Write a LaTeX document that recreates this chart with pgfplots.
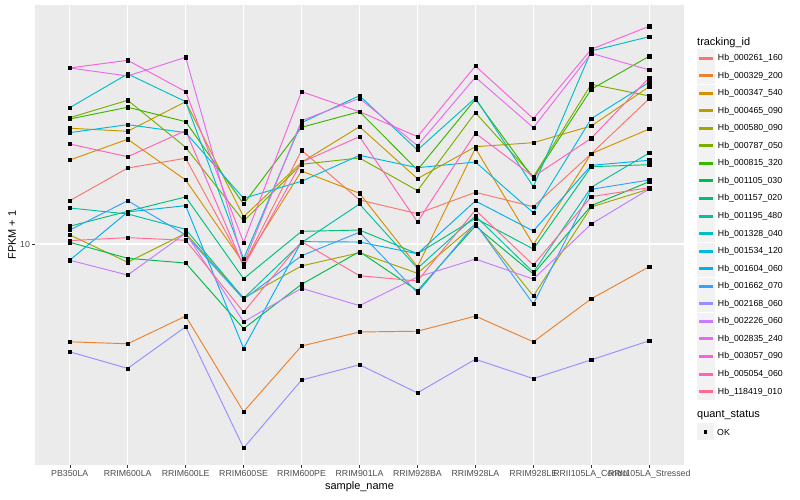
\documentclass[border=0pt]{standalone}
\usepackage{fontspec}
\setmainfont{Liberation Sans}
\usepackage{pgfplots}
\usepackage{pgfplotstable}
\pgfplotsset{compat=1.18}
\definecolor{c1}{HTML}{F8766D}
\definecolor{c2}{HTML}{EA8331}
\definecolor{c3}{HTML}{D89000}
\definecolor{c4}{HTML}{C09B00}
\definecolor{c5}{HTML}{A3A500}
\definecolor{c6}{HTML}{7CAE00}
\definecolor{c7}{HTML}{39B600}
\definecolor{c8}{HTML}{00BB4E}
\definecolor{c9}{HTML}{00BF7D}
\definecolor{c10}{HTML}{00C1A3}
\definecolor{c11}{HTML}{00BFC4}
\definecolor{c12}{HTML}{00BAE0}
\definecolor{c13}{HTML}{00B0F6}
\definecolor{c14}{HTML}{35A2FF}
\definecolor{c15}{HTML}{9590FF}
\definecolor{c16}{HTML}{C77CFF}
\definecolor{c17}{HTML}{E76BF3}
\definecolor{c18}{HTML}{FA62DB}
\definecolor{c19}{HTML}{FF62BC}
\definecolor{c20}{HTML}{FF6C91}
\definecolor{panelbg}{HTML}{EBEBEB}
\definecolor{keybg}{HTML}{F2F2F2}
\definecolor{ticklab}{HTML}{4D4D4D}
\definecolor{tickcol}{HTML}{333333}

\pgfplotstableread{
x s1 s2 s3 s4 s5 s6 s7 s8 s9 s10 s11 s12 s13 s14 s15 s16 s17 s18 s19 s20
0 13.94 4.72 19.05 24.31 10.72 26.36 26.10 10.13 11.46 13.18 28.47 23.50 8.83 11.13 4.37 8.83 38.61 38.61 21.54 10.26
1 17.92 4.65 22.34 23.75 8.69 30.13 28.56 8.96 12.85 12.59 36.88 24.99 12.79 13.94 3.85 7.88 36.31 40.95 19.54 10.50
2 19.31 5.75 16.34 29.81 10.86 21.00 25.57 8.64 14.35 11.19 29.81 23.50 13.42 10.72 5.30 10.86 41.91 32.19 23.86 10.29
3 8.51 2.76 8.62 12.33 6.61 11.93 13.59 5.22 7.66 6.59 8.93 14.20 4.49 6.54 2.09 5.50 8.62 10.13 8.40 5.93
4 20.53 4.57 17.51 18.72 8.45 18.44 24.49 7.34 11.02 10.10 25.37 16.18 10.18 9.14 3.52 7.12 25.76 32.19 18.72 10.18
5 14.02 5.09 14.76 24.60 9.35 19.35 27.61 9.43 11.13 13.59 31.21 19.75 10.15 10.94 3.96 6.23 30.60 27.61 22.79 7.84
6 12.62 5.12 8.40 16.51 7.99 15.06 17.65 6.99 9.28 8.30 20.57 17.96 9.28 6.88 3.19 7.76 21.27 22.79 11.84 7.53
7 14.87 5.75 20.85 21.10 11.66 27.40 30.36 11.48 12.18 12.40 30.67 18.76 13.91 11.72 4.13 8.91 35.95 39.20 23.39 12.98
8 13.31 4.72 9.95 21.76 6.71 16.76 16.56 7.94 9.62 8.05 15.52 12.71 11.05 6.31 3.56 7.64 24.42 26.16 16.76 8.51
9 20.00 6.57 20.00 24.74 13.28 34.07 32.79 13.42 18.10 15.45 43.99 26.16 18.29 15.22 4.11 11.66 43.22 44.57 22.51 14.38
10 30.50 8.40 24.17 33.44 15.25 31.14 42.24 16.13 18.38 20.11 49.09 34.60 19.01 16.34 4.76 15.25 38.02 53.18 35.84 15.41
}\datatable

\begin{document}
\begin{tikzpicture}
\fill[white] (0,0) rectangle (800bp,500bp);
\useasboundingbox (0,0) rectangle (800bp,500bp);
\begin{axis}[
  at={(35bp,35bp)}, anchor=south west,
  scale only axis, width=649bp, height=460bp,
  xmin=-0.6, xmax=10.6,
  ymode=log, ymin=1.834, ymax=62.6,
  xtick={0,1,2,3,4,5,6,7,8,9,10},
  xticklabels={PB350LA,RRIM600LA,RRIM600LE,RRIM600SE,RRIM600PE,RRIM901LA,RRIM928BA,RRIM928LA,RRIM928LE,RRII105LA\_Control,RRII105LA\_Stressed},
  ytick={10}, yticklabels={10},
  yminorticks=false, xminorticks=false,
  axis background/.style={fill=panelbg},
  axis line style={draw=none},
  grid=major, major grid style={white, line width=1.07bp},
  tick align=outside, major tick length=2.7bp,
  tick style={tickcol, line width=0.5bp},
  tick pos=left,
  xticklabel style={font=\fontsize{8.8}{9}\selectfont, text=ticklab, inner sep=0pt, anchor=north, yshift=-2.2bp},
  yticklabel style={font=\fontsize{8.8}{9}\selectfont, text=ticklab, inner sep=0pt, anchor=east, xshift=-2.2bp},
  xlabel={sample\_name}, ylabel={FPKM + 1},
  label style={font=\fontsize{11}{12}\selectfont},
  xlabel style={at={(axis description cs:0.5,-0.0478)}, anchor=center},
  ylabel style={at={(axis description cs:-0.0354,0.5)}, anchor=center},
  legend cell align=left,
  legend style={at={(1.02003,0.90326)}, anchor=north west, draw=none, fill=none, inner sep=0pt, outer sep=0pt, row sep=0.3bp, font=\fontsize{8.8}{9}\selectfont, nodes={inner sep=0pt}},
  legend image code/.code={\fill[keybg] (0bp,-8.15bp) rectangle (17bp,8.15bp); \fill[#1] (1.7bp,-1bp) rectangle (15.3bp,1bp); \path (20bp,0bp);},
]
\pgfplotsinvokeforeach{1,...,20}{
  \addplot[c#1, line width=0.95bp, mark=none] table[x=x, y=s#1]{\datatable};
}
\pgfplotsinvokeforeach{1,...,20}{
  \addplot[only marks, mark=square*, mark size=1.6bp, mark options={black, fill=black}, forget plot] table[x=x, y=s#1]{\datatable};
}
\legend{Hb\_000261\_160,Hb\_000329\_200,Hb\_000347\_540,Hb\_000465\_090,Hb\_000580\_090,Hb\_000787\_050,Hb\_000815\_320,Hb\_001105\_030,Hb\_001157\_020,Hb\_001195\_480,Hb\_001328\_040,Hb\_001534\_120,Hb\_001604\_060,Hb\_001662\_070,Hb\_002168\_060,Hb\_002226\_060,Hb\_002835\_240,Hb\_003057\_090,Hb\_005054\_060,Hb\_118419\_010}
\end{axis}
\node[anchor=west, inner sep=0pt, font=\fontsize{11}{12}\selectfont] at (697bp,457.5bp) {tracking\_id};
\node[anchor=west, inner sep=0pt, font=\fontsize{11}{12}\selectfont] at (697bp,85bp) {quant\_status};
\fill[keybg] (697bp,59.5bp) rectangle (714bp,76.5bp);
\fill[black] (703.9bp,66.4bp) rectangle (707.1bp,69.6bp);
\node[anchor=west, inner sep=0pt, font=\fontsize{8.8}{9}\selectfont] at (717bp,68bp) {OK};
\end{tikzpicture}
\end{document}
